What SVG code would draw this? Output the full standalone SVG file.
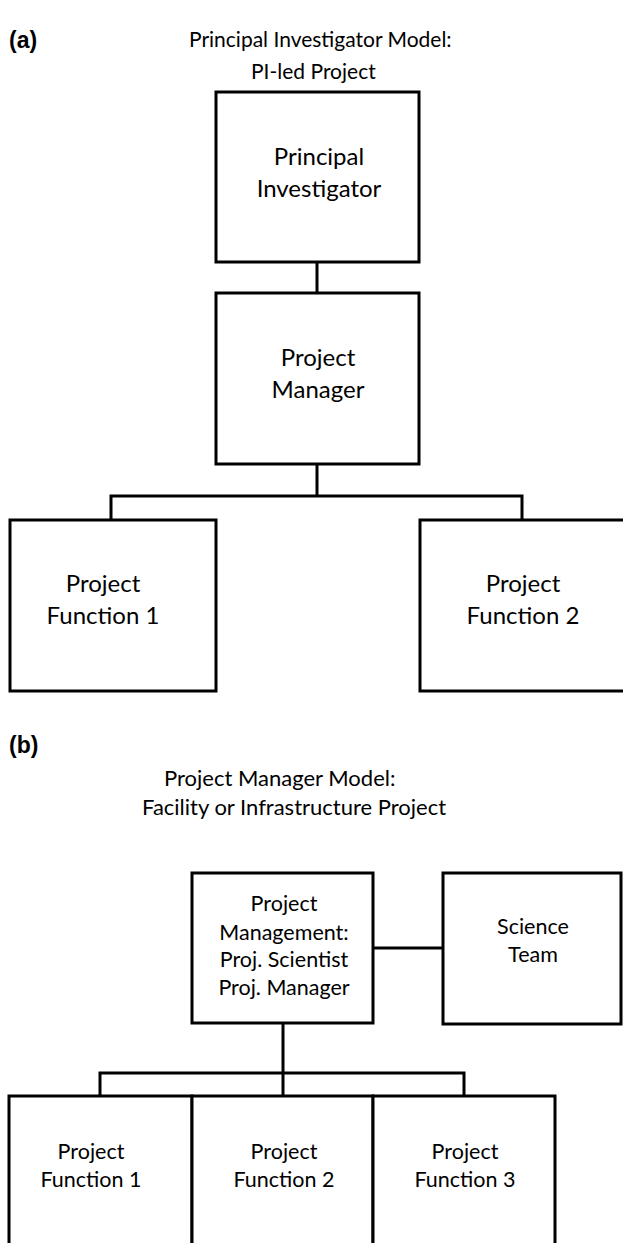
<svg xmlns="http://www.w3.org/2000/svg" width="623" height="1243" viewBox="0 0 623 1243">
<style>
.box{fill:#fff;stroke:#000;stroke-width:3}
.con{fill:none;stroke:#000;stroke-width:3}
text{font-family:Lato,"Liberation Sans",sans-serif;fill:#000;text-anchor:middle}
.ta{font-size:21px;text-anchor:start}
.tb{font-size:22px;text-anchor:start}
.n{font-size:24px}
.m{font-size:21.5px}
.lbl{font-family:"Liberation Sans",Arial,sans-serif;font-weight:bold;font-size:23px;text-anchor:start}
</style>
<rect width="623" height="1243" fill="#fff"/>
<g id="titles">
<text class="lbl" x="9" y="48">(a)</text>
<text class="ta" x="189" y="47">Principal Investigator Model:</text>
<text class="ta" x="251" y="79">PI-led Project</text>
<text class="lbl" x="9" y="753">(b)</text>
<text class="tb" x="164" y="786">Project Manager Model:</text>
<text class="tb" x="142" y="815">Facility or Infrastructure Project</text>
</g>
<g id="connectors">
<path class="con" d="M317 262V293"/>
<path class="con" d="M317 464V496M111 520V496H522V520"/>
<path class="con" d="M373 948H443"/>
<path class="con" d="M283 1023V1096M100 1096V1073H464V1096"/>
</g>
<g id="pi"><rect class="box" x="216" y="92" width="203" height="170"/>
<text class="n" x="319" y="165">Principal</text><text class="n" x="319" y="197">Investigator</text></g>
<g id="pm"><rect class="box" x="216" y="293" width="203" height="171"/>
<text class="n" x="318" y="366">Project</text><text class="n" x="318" y="398">Manager</text></g>
<g id="pf1a"><rect class="box" x="10" y="520" width="206" height="171"/>
<text class="n" x="103" y="592">Project</text><text class="n" x="103" y="624">Function 1</text></g>
<g id="pf2a"><rect class="box" x="420" y="520" width="206" height="171"/>
<text class="n" x="523" y="592">Project</text><text class="n" x="523" y="624">Function 2</text></g>
<g id="pmgmt"><rect class="box" x="192" y="873" width="181" height="150"/>
<text class="m" x="284" y="911">Project</text><text class="m" x="284" y="940">Management:</text><text class="m" x="284" y="967">Proj. Scientist</text><text class="m" x="284" y="995">Proj. Manager</text></g>
<g id="sci"><rect class="box" x="443" y="873" width="178" height="151"/>
<text class="m" x="533" y="934">Science</text><text class="m" x="533" y="962">Team</text></g>
<g id="pf1b"><rect class="box" x="9" y="1096" width="183" height="160"/>
<text class="m" x="91" y="1159">Project</text><text class="m" x="91" y="1187">Function 1</text></g>
<g id="pf2b"><rect class="box" x="192" y="1096" width="181" height="160"/>
<text class="m" x="284" y="1159">Project</text><text class="m" x="284" y="1187">Function 2</text></g>
<g id="pf3b"><rect class="box" x="373" y="1096" width="182" height="160"/>
<text class="m" x="465" y="1159">Project</text><text class="m" x="465" y="1187">Function 3</text></g>
</svg>
